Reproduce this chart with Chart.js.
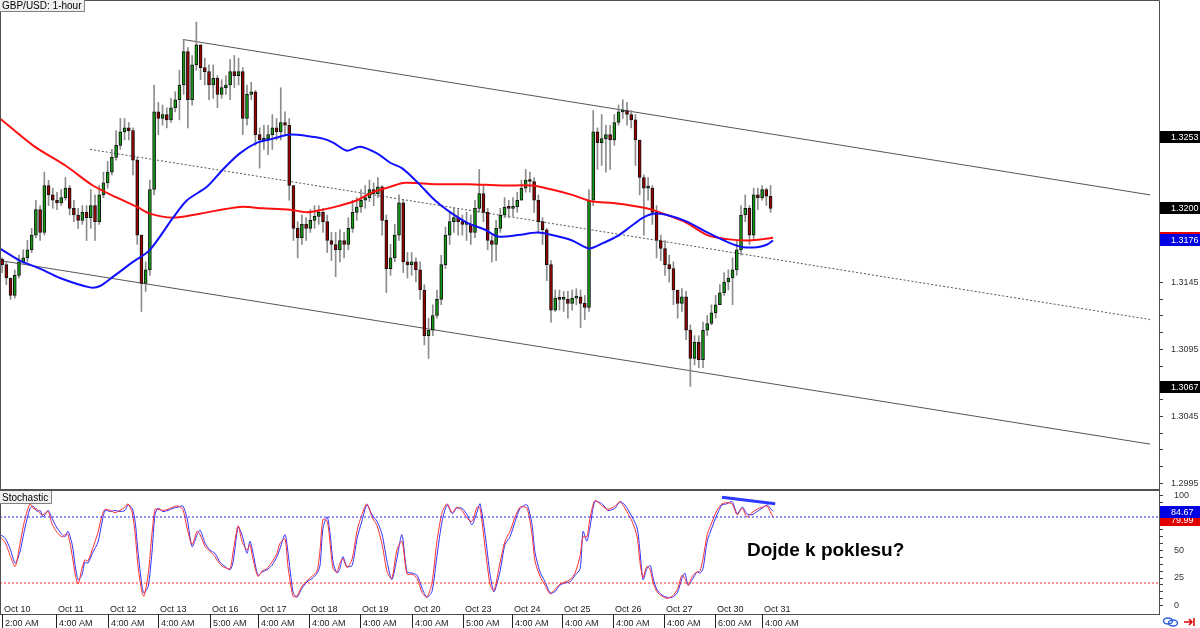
<!DOCTYPE html>
<html>
<head>
<meta charset="utf-8">
<script src="https://cdn.jsdelivr.net/npm/chart.js@4.4.1/dist/chart.umd.min.js"></script>
<style>
  html, body { margin: 0; padding: 0; background: #fff; }
  #wrap { position: relative; width: 1200px; height: 628px; overflow: hidden; background: #fff; }
  #priceChart { position: absolute; left: 0; top: 0; }
  #stochChart { position: absolute; left: 0; top: 489px; }
</style>
</head>
<body>
<div id="wrap">
  <canvas id="priceChart" width="1200" height="490"></canvas>
  <canvas id="stochChart" width="1200" height="139"></canvas>
</div>
<script>
const firstOpen = 1.3162;
const closes = [
  1.3158, 1.3148, 1.3135, 1.3150, 1.3160, 1.3163, 1.3169, 1.3180, 1.3199, 1.3182,
  1.3217, 1.3210, 1.3206, 1.3204, 1.3208, 1.3215, 1.3200, 1.3195, 1.3191, 1.3197,
  1.3193, 1.3202, 1.3190, 1.3210, 1.3219, 1.3227, 1.3238, 1.3247, 1.3257, 1.3260,
  1.3258, 1.3236, 1.3180, 1.3144, 1.3154, 1.3214, 1.3272, 1.3267, 1.3270, 1.3266,
  1.3275, 1.3281, 1.3292, 1.3317, 1.3281, 1.3307, 1.3322, 1.3305, 1.3302, 1.3292,
  1.3297, 1.3285, 1.3290, 1.3292, 1.3302, 1.3299, 1.3302, 1.3267, 1.3285, 1.3287,
  1.3255, 1.3251, 1.3252, 1.3255, 1.3260, 1.3257, 1.3264, 1.3262, 1.3217, 1.3185,
  1.3178, 1.3188, 1.3185, 1.3191, 1.3194, 1.3197, 1.3190, 1.3176, 1.3173, 1.3169,
  1.3176, 1.3173, 1.3185, 1.3197, 1.3201, 1.3206, 1.3208, 1.3214, 1.3211, 1.3216,
  1.3191, 1.3155, 1.3163, 1.3180, 1.3204, 1.3160, 1.3158, 1.3160, 1.3154, 1.3139,
  1.3105, 1.3109, 1.3120, 1.3132, 1.3158, 1.3180, 1.3190, 1.3193, 1.3190, 1.3188,
  1.3188, 1.3182, 1.3200, 1.3211, 1.3197, 1.3176, 1.3173, 1.3185, 1.3195, 1.3201,
  1.3200, 1.3201, 1.3206, 1.3215, 1.3221, 1.3220, 1.3206, 1.3190, 1.3184, 1.3158,
  1.3124, 1.3133, 1.3132, 1.3132, 1.3129, 1.3133, 1.3134, 1.3129, 1.3126, 1.3206,
  1.3257, 1.3249, 1.3252, 1.3255, 1.3251, 1.3264, 1.3272, 1.3273, 1.3270, 1.3266,
  1.3251, 1.3223, 1.3215, 1.3215, 1.3197, 1.3176, 1.3170, 1.3158, 1.3155, 1.3139,
  1.3129, 1.3134, 1.3109, 1.3088, 1.3100, 1.3087, 1.3109, 1.3114, 1.3122, 1.3128,
  1.3137, 1.3145, 1.3148, 1.3154, 1.3169, 1.3195, 1.3200, 1.3180, 1.3210, 1.3208,
  1.3214, 1.3209, 1.3200
];
const highs = [
  1.3163, 1.3160, 1.3147, 1.3154, 1.3165, 1.3169, 1.3176, 1.3185, 1.3206, 1.3202,
  1.3227, 1.3221, 1.3215, 1.3212, 1.3214, 1.3223, 1.3217, 1.3206, 1.3200, 1.3202,
  1.3202, 1.3214, 1.3210, 1.3217, 1.3227, 1.3235, 1.3244, 1.3258, 1.3267, 1.3267,
  1.3264, 1.3260, 1.3238, 1.3180, 1.3160, 1.3221, 1.3292, 1.3279, 1.3277, 1.3275,
  1.3282, 1.3287, 1.3303, 1.3326, 1.3320, 1.3314, 1.3339, 1.3322, 1.3312, 1.3307,
  1.3307, 1.3299, 1.3296, 1.3299, 1.3311, 1.3314, 1.3312, 1.3305, 1.3292, 1.3294,
  1.3288, 1.3260, 1.3262, 1.3262, 1.3270, 1.3267, 1.3290, 1.3272, 1.3267, 1.3217,
  1.3190, 1.3195, 1.3193, 1.3199, 1.3202, 1.3202, 1.3200, 1.3195, 1.3182, 1.3182,
  1.3184, 1.3182, 1.3193, 1.3206, 1.3208, 1.3214, 1.3217, 1.3221, 1.3219, 1.3223,
  1.3217, 1.3195, 1.3173, 1.3188, 1.3210, 1.3206, 1.3167, 1.3167, 1.3163, 1.3160,
  1.3143, 1.3118, 1.3128, 1.3139, 1.3165, 1.3186, 1.3197, 1.3200, 1.3199, 1.3195,
  1.3197, 1.3195, 1.3206, 1.3229, 1.3217, 1.3200, 1.3180, 1.3191, 1.3200, 1.3208,
  1.3206, 1.3208, 1.3212, 1.3221, 1.3229, 1.3227, 1.3223, 1.3210, 1.3193, 1.3185,
  1.3161, 1.3139, 1.3139, 1.3138, 1.3138, 1.3139, 1.3140, 1.3139, 1.3135, 1.3214,
  1.3273, 1.3260, 1.3270, 1.3262, 1.3262, 1.3270, 1.3277, 1.3281, 1.3279, 1.3273,
  1.3270, 1.3251, 1.3225, 1.3223, 1.3217, 1.3202, 1.3180, 1.3176, 1.3165, 1.3160,
  1.3139, 1.3140, 1.3138, 1.3113, 1.3105, 1.3105, 1.3115, 1.3120, 1.3128, 1.3135,
  1.3143, 1.3152, 1.3154, 1.3163, 1.3176, 1.3202, 1.3210, 1.3202, 1.3215, 1.3215,
  1.3217, 1.3215, 1.3217
];
const lows = [
  1.3152, 1.3143, 1.3132, 1.3133, 1.3148, 1.3158, 1.3160, 1.3167, 1.3178, 1.3176,
  1.3180, 1.3202, 1.3200, 1.3199, 1.3202, 1.3206, 1.3195, 1.3190, 1.3185, 1.3188,
  1.3176, 1.3185, 1.3176, 1.3188, 1.3208, 1.3215, 1.3225, 1.3236, 1.3244, 1.3251,
  1.3251, 1.3225, 1.3173, 1.3123, 1.3138, 1.3150, 1.3210, 1.3255, 1.3262, 1.3260,
  1.3264, 1.3272, 1.3266, 1.3285, 1.3260, 1.3277, 1.3303, 1.3296, 1.3292, 1.3281,
  1.3282, 1.3275, 1.3282, 1.3285, 1.3281, 1.3290, 1.3292, 1.3255, 1.3262, 1.3281,
  1.3247, 1.3230, 1.3244, 1.3240, 1.3244, 1.3251, 1.3251, 1.3255, 1.3206, 1.3176,
  1.3163, 1.3173, 1.3176, 1.3182, 1.3185, 1.3188, 1.3182, 1.3167, 1.3161, 1.3149,
  1.3160, 1.3163, 1.3169, 1.3182, 1.3191, 1.3197, 1.3200, 1.3205, 1.3202, 1.3208,
  1.3180, 1.3137, 1.3150, 1.3160, 1.3176, 1.3152, 1.3148, 1.3150, 1.3145, 1.3132,
  1.3098, 1.3088, 1.3105, 1.3118, 1.3128, 1.3155, 1.3173, 1.3182, 1.3180, 1.3180,
  1.3176, 1.3173, 1.3178, 1.3197, 1.3190, 1.3169, 1.3160, 1.3161, 1.3182, 1.3193,
  1.3193, 1.3194, 1.3197, 1.3206, 1.3212, 1.3212, 1.3197, 1.3182, 1.3173, 1.3146,
  1.3115, 1.3123, 1.3124, 1.3123, 1.3118, 1.3124, 1.3128, 1.3111, 1.3117, 1.3123,
  1.3202, 1.3229, 1.3232, 1.3227, 1.3229, 1.3247, 1.3262, 1.3267, 1.3262, 1.3260,
  1.3232, 1.3210, 1.3180, 1.3206, 1.3188, 1.3163, 1.3161, 1.3150, 1.3145, 1.3128,
  1.3118, 1.3123, 1.3102, 1.3067, 1.3083, 1.3081, 1.3081, 1.3105, 1.3113, 1.3118,
  1.3128, 1.3135, 1.3139, 1.3128, 1.3150, 1.3165, 1.3190, 1.3173, 1.3176, 1.3199,
  1.3206, 1.3202, 1.3197
];

// moving averages (red = slow, blue = fast), read at turning points
const maRedX = [-0.5, 7.3, 15.4, 21.5, 27.2, 32.0, 35.0, 40.5, 46.9, 56.3, 61.8, 68.2, 72.2, 76.0, 80.0, 84.1, 87.8, 91.9,
  95.4, 102.5, 110.3, 118.4, 125.5, 130.2, 135.0, 139.9, 144.7, 151.1, 153.9, 157.5, 162.2, 167.0, 171.7, 176.4, 180.2, 182.6];
const maRed = [1.3267, 1.3247, 1.3231, 1.3217, 1.3208, 1.3201, 1.3196, 1.3193, 1.3196, 1.3201, 1.3200, 1.3199, 1.3197, 1.3199,
  1.3202, 1.3206, 1.3212, 1.3216, 1.3219, 1.3218, 1.3218, 1.3217, 1.3217, 1.3214, 1.3210, 1.3205, 1.3204, 1.3201, 1.3199,
  1.3195, 1.3189, 1.3180, 1.3177, 1.3176, 1.3177, 1.3178];
const maBlueX = [-0.5, 4.2, 9.0, 13.7, 20.8, 23.2, 26.3, 31.0, 35.0, 40.5, 43.8, 48.5, 52.3, 56.3, 60.4, 64.2, 68.2, 72.2,
  76.0, 78.4, 81.7, 84.8, 88.8, 91.9, 94.7, 98.5, 102.5, 106.6, 110.3, 114.4, 117.4, 122.2, 126.9, 131.7, 135.0, 138.1,
  139.3, 142.3, 145.6, 148.7, 151.8, 154.2, 157.5, 162.2, 167.0, 172.4, 175.5, 178.8, 181.2, 182.6];
const maBlue = [1.3170, 1.3161, 1.3155, 1.3148, 1.3141, 1.3142, 1.3149, 1.3160, 1.3169, 1.3193, 1.3206, 1.3216, 1.3229,
  1.3241, 1.3249, 1.3252, 1.3255, 1.3254, 1.3252, 1.3249, 1.3243, 1.3246, 1.3241, 1.3234, 1.3230, 1.3219, 1.3206, 1.3196,
  1.3189, 1.3184, 1.3179, 1.3180, 1.3182, 1.3179, 1.3176, 1.3171, 1.3170, 1.3174, 1.3179, 1.3186, 1.3193, 1.3196, 1.3195,
  1.3190, 1.3182, 1.3174, 1.3171, 1.3171, 1.3173, 1.3176];

// descending channel: [x, price] end points
const channelUpper = [[42.8, 1.3326], [271.9, 1.3210]];
const channelMid = [[20.8, 1.3244], [271.9, 1.3117]];
const channelLower = [[-0.5, 1.3161], [271.9, 1.3024]];

// stochastic, red leads blue
const stochX = [
  -0.5, 0.7, 1.9, 3.1, 4.2, 5.4, 6.6, 7.3, 8.3, 9.0,
  9.7, 10.9, 11.8, 13.0, 14.2, 14.9, 15.6, 16.6, 17.3, 18.0,
  18.9, 19.6, 20.3, 21.5, 22.7, 23.7, 24.4, 25.6, 26.7, 27.9,
  29.1, 29.8, 30.8, 31.5, 32.2, 33.1, 33.6, 34.6, 35.5, 36.2,
  36.9, 38.1, 39.3, 40.5, 41.7, 42.8, 43.8, 45.0, 46.2, 46.9,
  48.1, 49.2, 50.4, 51.6, 52.8, 54.0, 54.7, 55.9, 56.8, 58.0,
  58.7, 59.4, 60.6, 61.6, 62.7, 63.9, 65.1, 65.8, 67.0, 67.7,
  68.9, 69.8, 71.0, 72.2, 73.4, 74.6, 75.3, 76.0, 77.0, 77.7,
  78.4, 79.3, 80.0, 80.7, 81.7, 82.9, 84.1, 85.2, 86.4, 87.6,
  88.8, 90.0, 91.2, 92.3, 93.5, 94.7, 95.9, 97.1, 98.3, 99.5,
  100.6, 101.8, 103.0, 104.2, 105.4, 106.6, 107.7, 108.9, 110.1, 111.3,
  112.5, 113.2, 114.4, 115.6, 116.5, 117.9, 119.1, 120.3, 121.5, 122.7,
  124.3, 125.5, 126.2, 127.4, 128.6, 129.8, 130.9, 132.1, 133.3, 134.5,
  135.7, 136.9, 137.6, 138.5, 139.2, 140.4, 142.1, 143.5, 145.2, 146.3,
  147.5, 149.2, 150.4, 151.1, 151.8, 152.7, 153.5, 154.2, 155.1, 156.3,
  157.5, 158.7, 159.9, 161.0, 161.7, 162.5, 163.6, 164.6, 165.3, 166.0,
  167.0, 168.1, 169.3, 170.5, 171.7, 172.9, 174.1, 175.3, 176.4, 177.6,
  178.8, 180.0, 181.2, 181.9, 182.6
];
const stochBlue = [
  64, 61, 51, 38, 48, 70, 88, 90, 85, 86,
  80, 86, 79, 70, 64, 62, 67, 55, 36, 23,
  27, 39, 38, 48, 57, 76, 86, 85, 86, 85,
  86, 91, 88, 76, 48, 18, 11, 17, 48, 82,
  88, 85, 86, 88, 89, 90, 79, 53, 64, 68,
  56, 50, 47, 39, 35, 32, 39, 71, 64, 47,
  58, 48, 27, 30, 32, 36, 44, 51, 64, 48,
  12, 7, 15, 21, 24, 29, 36, 70, 80, 64,
  39, 29, 33, 44, 35, 36, 61, 76, 91, 82,
  76, 64, 39, 23, 42, 64, 30, 29, 27, 15,
  7, 12, 45, 76, 91, 83, 88, 88, 82, 73,
  85, 92, 64, 27, 12, 30, 55, 62, 76, 88,
  91, 73, 48, 30, 21, 11, 12, 18, 20, 21,
  27, 33, 67, 58, 70, 94, 92, 86, 88, 94,
  91, 80, 70, 48, 23, 33, 36, 24, 14, 9,
  7, 7, 11, 24, 29, 18, 24, 30, 29, 33,
  58, 70, 82, 91, 92, 94, 83, 89, 83, 82,
  85, 88, 91, 88, 85
];
const stochRed = [
  62, 57, 45, 35, 55, 78, 92, 88, 87, 83,
  82, 85, 74, 66, 62, 64, 64, 45, 28, 19,
  33, 41, 40, 52, 66, 82, 87, 86, 84, 86,
  89, 92, 84, 65, 35, 12, 8, 28, 65, 87,
  87, 86, 87, 89, 90, 87, 70, 55, 67, 64,
  53, 49, 44, 37, 34, 33, 48, 72, 58, 50,
  55, 42, 26, 31, 33, 39, 47, 56, 60, 35,
  8, 8, 17, 22, 26, 31, 50, 78, 76, 55,
  33, 30, 38, 42, 34, 42, 68, 82, 92, 80,
  72, 55, 30, 24, 50, 58, 28, 28, 24, 11,
  7, 20, 58, 84, 92, 84, 89, 86, 79, 76,
  89, 88, 52, 18, 13, 38, 58, 67, 80, 89,
  88, 64, 40, 26, 18, 10, 14, 19, 21, 23,
  29, 45, 62, 62, 78, 95, 90, 87, 90, 94,
  88, 76, 62, 38, 25, 35, 32, 20, 12, 8,
  6, 8, 14, 27, 24, 18, 27, 30, 31, 42,
  64, 75, 86, 92, 93, 92, 82, 88, 80, 84,
  87, 89, 90, 85, 80
];
const stochLevels = [80, 20];
const divergenceLine = [[170.5, 98], [183.1, 92]];

// axis / markers
const priceTicks = [1.2995, 1.3045, 1.3095, 1.3145];
const priceLevels = [1.3253, 1.3200, 1.3067];
const stochTicks = [100, 75, 50, 25, 0];
const lastBlueStoch = 84.67;
const lastRedStoch = 79.99;
const dayTicks = [0, 12.8, 25.1, 36.9, 49.2, 60.6, 72.7, 84.8, 97.1, 109.2, 120.8, 132.6, 144.7, 156.8, 168.9, 180.0];
const dayLabels = ['Oct 10', 'Oct 11', 'Oct 12', 'Oct 13', 'Oct 16', 'Oct 17', 'Oct 18', 'Oct 19', 'Oct 20', 'Oct 23',
  'Oct 24', 'Oct 25', 'Oct 26', 'Oct 27', 'Oct 30', 'Oct 31'];
const timeLabels = ['2:00 AM', '4:00 AM', '4:00 AM', '4:00 AM', '5:00 AM', '4:00 AM', '4:00 AM', '4:00 AM', '4:00 AM',
  '5:00 AM', '4:00 AM', '4:00 AM', '4:00 AM', '4:00 AM', '6:00 AM', '4:00 AM'];

const FONT = '"Liberation Sans", Arial, sans-serif';
const X_MIN = -0.5, X_MAX = 274;
const AXIS_W = 41;

// candles: open = previous close
const opens = closes.map((c, i) => i === 0 ? firstOpen : closes[i - 1]);
const pts = (xs, ys) => xs.map((x, i) => ({ x, y: ys[i] }));
const seg = (p) => p.map(([x, y]) => ({ x, y }));

function valueBox(ctx, yPix, text, bg, x0) {
  ctx.fillStyle = bg;
  ctx.fillRect(x0, Math.round(yPix) - 6, 1200 - x0, 12);
  ctx.fillStyle = '#fff';
  ctx.font = '9px ' + FONT;
  ctx.textBaseline = 'middle';
  ctx.textAlign = 'left';
  ctx.fillText(text, 1171, Math.round(yPix) + 0.5);
}

// small grey label box with a dark shadow edge
function tagBox(ctx, x, y, h, text) {
  ctx.font = '10px ' + FONT;
  const w = Math.ceil(ctx.measureText(text).width) + 5;
  ctx.fillStyle = '#f0f0f0';
  ctx.fillRect(x, y, w, h);
  ctx.strokeStyle = '#808080';
  ctx.lineWidth = 1;
  ctx.beginPath();
  ctx.moveTo(x + w - 0.5, y); ctx.lineTo(x + w - 0.5, y + h - 0.5); ctx.lineTo(x, y + h - 0.5);
  ctx.stroke();
  ctx.fillStyle = '#000';
  ctx.textBaseline = 'middle';
  ctx.textAlign = 'left';
  ctx.fillText(text, x + 2, y + h / 2 + 0.5);
}

const priceDecor = {
  id: 'priceDecor',
  afterDraw(chart) {
    const { ctx, chartArea: a } = chart;
    const y = chart.scales.y;
    const r = a.right;
    ctx.save();
    ctx.strokeStyle = '#505050';
    ctx.lineWidth = 1;
    ctx.beginPath();
    ctx.moveTo(0.5, 490); ctx.lineTo(0.5, 0.5); ctx.lineTo(r + 0.5, 0.5); ctx.lineTo(r + 0.5, 490);
    ctx.stroke();
    // minor ticks on the price axis
    ctx.strokeStyle = '#404040';
    for (let v = priceTicks[0]; v <= priceTicks[priceTicks.length - 1] + 1e-9; v += 0.00125) {
      const py = Math.round(y.getPixelForValue(v)) + 0.5;
      ctx.beginPath(); ctx.moveTo(r, py); ctx.lineTo(r + 4, py); ctx.stroke();
    }
    ctx.fillStyle = '#333';
    ctx.font = '9px ' + FONT;
    ctx.textBaseline = 'middle';
    ctx.textAlign = 'left';
    priceTicks.forEach(v => ctx.fillText(v.toFixed(4), 1171, y.getPixelForValue(v) + 0.5));
    priceLevels.forEach(v => valueBox(ctx, y.getPixelForValue(v), v.toFixed(4), '#000', r + 1));
    const red = maRed[maRed.length - 1], blue = maBlue[maBlue.length - 1];
    valueBox(ctx, y.getPixelForValue(red), red.toFixed(4), '#e00000', r + 1);
    valueBox(ctx, y.getPixelForValue(blue), blue.toFixed(4), '#0000e0', r + 1);
    tagBox(ctx, 0, 0, 12, 'GBP/USD: 1-hour');
    ctx.restore();
  }
};

const stochDecor = {
  id: 'stochDecor',
  afterDraw(chart) {
    const { ctx, chartArea: a } = chart;
    const x = chart.scales.x, y = chart.scales.y;
    const r = a.right;
    ctx.save();
    // panel separator, borders
    ctx.fillStyle = '#505050';
    ctx.fillRect(0, 0, r + 1, 2);
    ctx.strokeStyle = '#505050';
    ctx.lineWidth = 1;
    ctx.beginPath();
    ctx.moveTo(0.5, 0); ctx.lineTo(0.5, a.bottom);
    ctx.moveTo(r + 0.5, 0); ctx.lineTo(r + 0.5, a.bottom);
    ctx.moveTo(0, a.bottom + 0.5); ctx.lineTo(r + 1, a.bottom + 0.5);
    ctx.stroke();
    ctx.strokeStyle = '#404040';
    for (let v = 0; v <= 100; v += 6.25) {
      const py = Math.round(y.getPixelForValue(v)) + 0.5;
      ctx.beginPath(); ctx.moveTo(r, py); ctx.lineTo(r + 4, py); ctx.stroke();
    }
    ctx.fillStyle = '#333';
    ctx.font = '9px ' + FONT;
    ctx.textBaseline = 'middle';
    ctx.textAlign = 'left';
    stochTicks.forEach(v => ctx.fillText(String(v), 1174, y.getPixelForValue(v) + 0.5));
    valueBox(ctx, y.getPixelForValue(lastRedStoch) + 3, lastRedStoch.toFixed(2), '#e00000', r + 1);
    valueBox(ctx, y.getPixelForValue(lastBlueStoch), lastBlueStoch.toFixed(2), '#0000e0', r + 1);

    // day labels inside the panel, time row below
    ctx.fillStyle = '#222';
    ctx.font = '9px ' + FONT;
    ctx.textBaseline = 'alphabetic';
    dayTicks.forEach((d, i) => {
      const px = Math.round(x.getPixelForValue(d));
      ctx.fillText(dayLabels[i], px + 2, 123);
      ctx.fillText(timeLabels[i], px + 3, 137);
      ctx.fillRect(px, a.bottom, 1, 14);
    });

    tagBox(ctx, 0, 2, 13, 'Stochastic');

    // caption
    ctx.fillStyle = '#000';
    ctx.font = 'bold 19px ' + FONT;
    ctx.fillText('Dojde k poklesu?', 747, 61.5);

    // little toolbar icons bottom right
    ctx.strokeStyle = '#3060e0';
    ctx.lineWidth = 1.5;
    ctx.beginPath(); ctx.ellipse(1168, 132, 4.5, 3, 0, 0, Math.PI * 2); ctx.stroke();
    ctx.beginPath(); ctx.ellipse(1173, 134, 4.5, 3, 0, 0, Math.PI * 2); ctx.stroke();
    ctx.strokeStyle = '#e00000';
    ctx.beginPath();
    ctx.moveTo(1184, 133); ctx.lineTo(1192, 133);
    ctx.moveTo(1189, 130); ctx.lineTo(1192, 133); ctx.lineTo(1189, 136);
    ctx.moveTo(1194, 129); ctx.lineTo(1194, 137);
    ctx.stroke();
    ctx.restore();
  }
};

const baseOptions = {
  responsive: false,
  animation: false,
  devicePixelRatio: 1,
  events: [],
  plugins: { legend: { display: false }, tooltip: { enabled: false } }
};

new Chart(document.getElementById('priceChart'), {
  type: 'bar',
  data: {
    datasets: [
      { type: 'line', data: seg(channelUpper), borderColor: '#555', borderWidth: 1, pointRadius: 0, order: 8 },
      { type: 'line', data: seg(channelMid), borderColor: '#555', borderWidth: 1, borderDash: [2, 2], pointRadius: 0, order: 8 },
      { type: 'line', data: seg(channelLower), borderColor: '#555', borderWidth: 1, pointRadius: 0, order: 8 },
      {
        data: lows.map((l, i) => ({ x: i, y: [l, highs[i]] })),
        backgroundColor: '#8c8c8c', barThickness: 1, grouped: false, order: 6
      },
      {
        data: closes.map((c, i) => ({ x: i, y: [opens[i], c] })),
        backgroundColor: closes.map((c, i) => c >= opens[i] ? '#129a12' : '#9a0000'),
        borderColor: '#111', borderWidth: 1, borderSkipped: false,
        barThickness: 3, minBarLength: 2, grouped: false, order: 5
      },
      { type: 'line', data: pts(maRedX, maRed), borderColor: '#ff1010', borderWidth: 2, pointRadius: 0, tension: 0.3, order: 2 },
      { type: 'line', data: pts(maBlueX, maBlue), borderColor: '#1010ff', borderWidth: 2, pointRadius: 0, tension: 0.3, order: 1 }
    ]
  },
  options: {
    ...baseOptions,
    layout: { padding: { left: 0, top: 0, right: AXIS_W, bottom: 1 } },
    scales: {
      x: { type: 'linear', min: X_MIN, max: X_MAX, offset: false, display: false },
      y: { type: 'linear', min: 1.299052, max: 1.335545, display: false }
    }
  },
  plugins: [priceDecor]
});

new Chart(document.getElementById('stochChart'), {
  type: 'line',
  data: {
    datasets: [
      { data: [{ x: X_MIN, y: stochLevels[0] }, { x: X_MAX, y: stochLevels[0] }], borderColor: '#2020ff', borderWidth: 1, borderDash: [2, 2], pointRadius: 0 },
      { data: [{ x: X_MIN, y: stochLevels[1] }, { x: X_MAX, y: stochLevels[1] }], borderColor: '#ff2020', borderWidth: 1, borderDash: [2, 2], pointRadius: 0 },
      { data: pts(stochX, stochRed), borderColor: '#ff3030', borderWidth: 1, pointRadius: 0, tension: 0.25 },
      { data: pts(stochX, stochBlue), borderColor: '#3030ff', borderWidth: 1, pointRadius: 0, tension: 0.25 },
      { data: seg(divergenceLine), borderColor: '#2a3cff', borderWidth: 3, pointRadius: 0 }
    ]
  },
  options: {
    ...baseOptions,
    layout: { padding: { left: 0, top: 1, right: AXIS_W, bottom: 14 } },
    scales: {
      x: { type: 'linear', min: X_MIN, max: X_MAX, display: false },
      y: { type: 'linear', min: -8.18, max: 104.55, display: false }
    }
  },
  plugins: [stochDecor]
});
</script>
</body>
</html>
